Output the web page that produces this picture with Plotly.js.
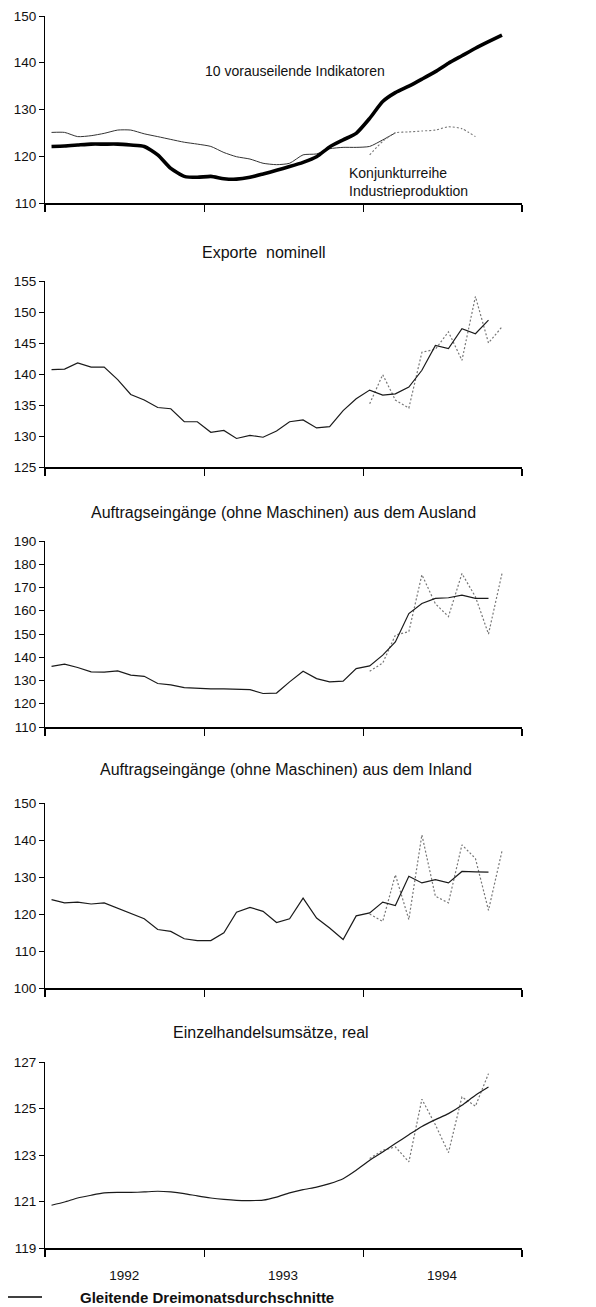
<!DOCTYPE html>
<html><head><meta charset="utf-8">
<script src="https://cdn.plot.ly/plotly-3.0.1.min.js"></script>
<style>html,body{margin:0;padding:0;background:#fff;}</style>
</head><body><div id="chart" style="width:596px;height:1307px;"></div>
<script>
// Months Jan 1992 .. Dec 1994 (mid-month positions)
const months = [
 "1992-01-16","1992-02-15","1992-03-16","1992-04-16","1992-05-16","1992-06-16","1992-07-16","1992-08-16","1992-09-16","1992-10-16","1992-11-16","1992-12-16",
 "1993-01-16","1993-02-15","1993-03-16","1993-04-16","1993-05-16","1993-06-16","1993-07-16","1993-08-16","1993-09-16","1993-10-16","1993-11-16","1993-12-16",
 "1994-01-16","1994-02-15","1994-03-16","1994-04-16","1994-05-16","1994-06-16","1994-07-16","1994-08-16","1994-09-16","1994-10-16","1994-11-16","1994-12-16"];
const monthsFrom1994 = months.slice(24);
const yearStarts = ["1992-01-01","1993-01-01","1994-01-01","1995-01-01"];
const yearMids = ["1992-07-01","1993-07-01","1994-07-01"];
const yearLabels = ["1992","1993","1994"];

// Panel 1
const leadIndicators = [122.1,122.2,122.4,122.6,122.6,122.6,122.4,122.1,120.3,117.4,115.7,115.5,115.7,115.2,115.1,115.5,116.2,117.0,117.8,118.7,119.9,122.0,123.5,124.9,128.1,131.7,133.6,135.0,136.5,138.1,139.9,141.5,143.1,144.5,145.9];
const industryTrend = [125.1,125.1,124.2,124.4,124.9,125.6,125.6,124.8,124.2,123.6,123.0,122.6,122.1,120.8,119.9,119.4,118.5,118.2,118.5,120.3,120.5,121.6,121.9,121.9,122.1,123.5,125.0];
const industryTrendProvisional = [120.3,123.2,125.0,125.2,125.4,125.6,126.3,125.9,124.2];

// Panel 2: Exporte nominell
const exportsAvg = [140.7,140.8,141.8,141.1,141.1,139.1,136.7,135.8,134.6,134.4,132.3,132.3,130.6,130.9,129.6,130.1,129.8,130.8,132.3,132.6,131.3,131.5,134.1,136.0,137.4,136.6,136.8,137.9,140.6,144.6,144.1,147.3,146.5,148.7];
const exportsMonthly = [135.2,139.9,135.8,134.5,143.5,144.0,146.8,142.2,152.5,145.0,147.6];

// Panel 3: Auftragseingänge Ausland
const foreignAvg = [136.1,137.0,135.6,133.7,133.6,134.1,132.3,131.8,128.7,128.1,126.9,126.5,126.4,126.4,126.4,126.1,124.4,124.6,129.4,134.0,130.8,129.4,129.7,135.1,136.3,140.9,146.6,158.8,163.1,165.3,165.6,166.7,165.3,165.3];
const foreignMonthly = [134.0,137.5,149.5,151.0,175.5,163.0,157.5,176.0,166.0,150.0,176.0];

// Panel 4: Auftragseingänge Inland
const domesticAvg = [123.9,123.0,123.2,122.7,123.0,121.6,120.3,118.7,115.8,115.3,113.3,112.8,112.8,114.9,120.5,121.8,120.7,117.7,118.7,124.3,118.9,116.2,113.1,119.5,120.3,123.2,122.3,130.2,128.4,129.3,128.4,131.5,131.4,131.3];
const domesticMonthly = [120.0,118.0,130.6,118.5,141.4,124.8,123.0,138.7,135.0,121.0,137.0];

// Panel 5: Einzelhandelsumsätze, real
const retailAvg = [120.84,120.98,121.15,121.27,121.37,121.39,121.39,121.41,121.44,121.41,121.34,121.24,121.15,121.09,121.05,121.04,121.06,121.19,121.37,121.51,121.62,121.77,121.98,122.34,122.77,123.13,123.49,123.87,124.23,124.52,124.78,125.14,125.57,125.92];
const retailMonthly = [122.85,123.2,123.35,122.7,125.4,124.3,123.1,125.5,125.1,126.5];

const panelTitles = ["Exporte  nominell","Auftragseingänge (ohne Maschinen) aus dem Ausland","Auftragseingänge (ohne Maschinen) aus dem Inland","Einzelhandelsumsätze, real"];
const legendText = "Gleitende Dreimonatsdurchschnitte";

const FONT = "Liberation Sans, Arial, sans-serif";
const solid = {color:"#1a1a1a", width:1.2};
const dotted = {color:"#777", width:1.2, dash:"2px,2px"};

function tr(x, y, ax, line, shape){
  return {x:x.slice(0,y.length), y:y, xaxis:"x"+ax, yaxis:"y"+ax, type:"scatter", mode:"lines",
          line:Object.assign({}, line, shape?{shape:"spline", smoothing:0.6}:{}), hoverinfo:"skip", showlegend:false};
}

const data = [
  tr(months, industryTrend, "", {color:"#333", width:1}, true),
  tr(monthsFrom1994, industryTrendProvisional, "", {color:"#777", width:1.1, dash:"2px,2px"}, true),
  tr(months, leadIndicators, "", {color:"#000", width:3.6}, true),
  tr(monthsFrom1994, exportsMonthly, "2", dotted),
  tr(months, exportsAvg, "2", solid),
  tr(monthsFrom1994, foreignMonthly, "3", dotted),
  tr(months, foreignAvg, "3", solid),
  tr(monthsFrom1994, domesticMonthly, "4", dotted),
  tr(months, domesticAvg, "4", solid),
  tr(monthsFrom1994, retailMonthly, "5", dotted),
  tr(months, retailAvg, "5", solid, true)
];

const H = 1307, T = 16, B = 59, PH = H - T - B;
const L = 45, R = 74, PW = 596 - L - R;
const py = p => (H - B - p) / PH;
const px = p => (p - L) / PW;

function xax(anchor, last){
  const a = {type:"date", range:["1992-01-01","1995-01-01"], anchor:anchor, showline:true, linewidth:1.6, linecolor:"#000",
    showgrid:false, zeroline:false, fixedrange:true};
  if (last){
    Object.assign(a, {tickmode:"array", tickvals:yearMids, ticktext:yearLabels, ticks:"", ticklabelstandoff:14,
      tickfont:{family:FONT, size:13.5, color:"#111"},
      minor:{tickmode:"array", tickvals:yearStarts, ticks:"outside", ticklen:7, tickwidth:1.2, tickcolor:"#000", showgrid:false}});
  } else {
    Object.assign(a, {tickmode:"array", tickvals:yearStarts, ticks:"outside", ticklen:7, tickwidth:1.2, tickcolor:"#000", showticklabels:false});
  }
  return a;
}
function yax(anchor, range, dtick, top, bottom){
  return {range:range, dtick:dtick, tick0:range[0], anchor:anchor, domain:[py(bottom), py(top)], showline:true, linewidth:1, linecolor:"#000",
    ticks:"outside", ticklen:5, tickwidth:1, tickcolor:"#000", showgrid:false, zeroline:false,
    tickfont:{family:FONT, size:13.5, color:"#111"}, fixedrange:true};
}

const ann = (text, x, y, size, xanchor) => ({text:text, xref:"paper", yref:"paper", x:x, y:y, showarrow:false,
  xanchor:xanchor||"center", yanchor:"middle", font:{family:FONT, size:size, color:"#111"}});

const layout = {
  width:596, height:1307, margin:{l:L, r:R, t:T, b:B}, paper_bgcolor:"#fff", plot_bgcolor:"#fff", showlegend:false,
  xaxis:xax("y"), xaxis2:xax("y2"), xaxis3:xax("y3"), xaxis4:xax("y4"), xaxis5:xax("y5", true),
  yaxis:yax("x", [110,150], 10, 16, 203),
  yaxis2:yax("x2", [125,155], 5, 281, 467),
  yaxis3:yax("x3", [110,190], 10, 541, 727),
  yaxis4:yax("x4", [100,150], 10, 803, 988),
  yaxis5:yax("x5", [119,127], 2, 1062, 1248),
  annotations:[
    ann("10 vorauseilende Indikatoren", px(295), py(71), 14),
    ann("Konjunkturreihe", px(347), py(173), 14, "left"),
    ann("Industrieproduktion", px(347), py(191), 14, "left"),
    ann(panelTitles[0], px(264), py(252), 16),
    ann(panelTitles[1], px(283), py(512), 16),
    ann(panelTitles[2], px(286), py(769), 16),
    ann(panelTitles[3], px(271), py(1032), 16),
    ann("<b>"+legendText+"</b>", px(78), py(1297), 15, "left")
  ],
  shapes:[
    {type:"line", xref:"paper", yref:"paper", x0:px(8), x1:px(42), y0:py(1297), y1:py(1297), line:{color:"#000", width:1.3}}
  ]
};

Plotly.newPlot("chart", data, layout, {displayModeBar:false, staticPlot:true});
</script></body></html>
